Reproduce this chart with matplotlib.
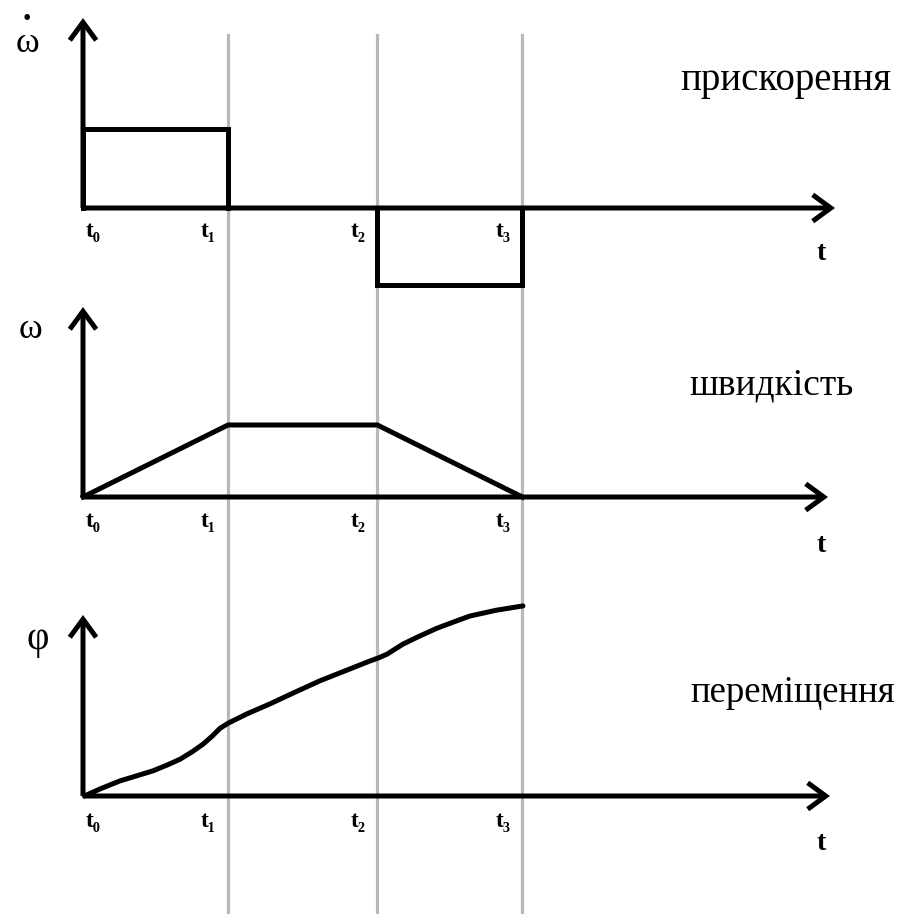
import matplotlib
matplotlib.use("Agg")
import matplotlib.pyplot as plt

# ---- data ----
t_labels = ["t₀", "t₁", "t₂", "t₃"]
t_times = [0.0, 1.0, 2.03, 3.03]

accel_up = 1.1
accel_down = -1.07

vel_times = [0.0, 1.0, 2.03, 3.03]
vel_values = [0.0, 1.0, 1.0, 0.0]

phi_times = [0.01, 0.12, 0.255, 0.37, 0.483, 0.58, 0.669, 0.75, 0.828, 0.89,
             0.945, 1.0, 1.13, 1.29, 1.46, 1.634, 1.81, 1.979, 2.04, 2.097,
             2.207, 2.32, 2.441, 2.56, 2.669, 2.85, 3.034]
phi_values = [0.0, 0.10, 0.21, 0.28, 0.35, 0.43, 0.51, 0.61, 0.72, 0.83,
              0.94, 1.01, 1.14, 1.28, 1.44, 1.60, 1.74, 1.875, 1.92, 1.97,
              2.11, 2.22, 2.33, 2.42, 2.50, 2.58, 2.64]

titles = ["прискорення", "швидкість", "переміщення"]
ylabels = ["ω", "ω", "φ"]
xlabel = "t"

# ---- layout ----
W, H = 904, 914
X0, UX, UY = 83, 145, 72
LW = 3.6
SERIF = ["Liberation Serif", "DejaVu Serif"]

fig = plt.figure(figsize=(W / 100, H / 100), dpi=100)
fig.patch.set_facecolor("white")

# background axes for grey guide lines
bg = fig.add_axes([0, 0, 1, 1])
bg.set_xlim(-X0 / UX, (W - X0) / UX)
bg.set_ylim(0, 1)
bg.axis("off")
for tt in t_times[1:]:
    bg.axvline(tt, ymin=0, ymax=1 - 35 / H, color="#b8b8b8", lw=2.3, zorder=0)


def panel(top, bot, base):
    ax = fig.add_axes([0, 1 - bot / H, 1, (bot - top) / H])
    ax.set_xlim(-X0 / UX, (W - X0) / UX)
    ax.set_ylim((base - bot) / UY, (base - top) / UY)
    ax.axis("off")
    ax.patch.set_alpha(0)
    return ax


def axes_arrows(ax, xtip, ytip):
    ap = dict(arrowstyle="->,head_length=1.3,head_width=0.95", lw=LW,
              color="black", shrinkA=0, shrinkB=0, mutation_scale=10,
              joinstyle="miter", capstyle="butt")
    ax.annotate("", xy=(0, ytip), xytext=(0, 0), arrowprops=ap)
    ax.annotate("", xy=(xtip, 0), xytext=(0, 0), arrowprops=ap)


def tick_labels(ax, dy):
    for i, (lab, tt) in enumerate(zip(t_labels, t_times)):
        if i == 0:
            ax.annotate(lab, xy=(tt, 0), xytext=(3, dy), textcoords="offset pixels",
                        ha="left", va="center", fontsize=17, fontweight="bold",
                        family=SERIF)
        else:
            ax.annotate(lab, xy=(tt, 0), xytext=(-12, dy), textcoords="offset pixels",
                        ha="right", va="center", fontsize=17, fontweight="bold",
                        family=SERIF)


# panel 1: acceleration
ax1 = panel(0, 300, 208)
axes_arrows(ax1, (835 - X0) / UX, (208 - 18) / UY)
ax1.plot([t_times[0], t_times[0], t_times[1], t_times[1]], [0, accel_up, accel_up, 0],
         color="black", lw=LW, solid_joinstyle="miter")
ax1.plot([t_times[2], t_times[2], t_times[3], t_times[3]], [0, accel_down, accel_down, 0],
         color="black", lw=LW, solid_joinstyle="miter")
tick_labels(ax1, -24)

# panel 2: velocity
ax2 = panel(300, 590, 497)
axes_arrows(ax2, (828 - X0) / UX, (497 - 307) / UY)
ax2.plot(vel_times, vel_values, color="black", lw=LW, solid_joinstyle="miter")
tick_labels(ax2, -24)

# panel 3: displacement
ax3 = panel(590, 914, 796)
axes_arrows(ax3, (830 - X0) / UX, (796 - 615) / UY)
ax3.plot(phi_times, phi_values, color="black", lw=LW, solid_joinstyle="round",
         solid_capstyle="round")
tick_labels(ax3, -26)

# titles
fig.text(680 / W, 1 - 90 / H, titles[0], fontsize=28, family=SERIF, ha="left", va="baseline")
fig.text(689 / W, 1 - 395 / H, titles[1], fontsize=27, family=SERIF, ha="left", va="baseline")
fig.text(690 / W, 1 - 702 / H, titles[2], fontsize=26.5, family=SERIF, ha="left", va="baseline")

# x labels
for yc in (254, 545, 843):
    fig.text(821 / W, 1 - yc / H, xlabel, fontsize=20, fontweight="bold", family=SERIF,
             ha="center", va="center")

# y labels
fig.text(28 / W, 1 - 44 / H, ylabels[0], fontsize=26, family=SERIF, ha="center", va="center")
fig.text(27 / W, 1 - 19 / H, "•", fontsize=17, family=SERIF, ha="center", va="center")
fig.text(30 / W, 1 - 330 / H, ylabels[1], fontsize=26, family=SERIF, ha="center", va="center")
fig.text(38 / W, 1 - 640 / H, ylabels[2], fontsize=28, family=SERIF, ha="center", va="center")

fig.savefig("out.png", dpi=100, facecolor="white")
